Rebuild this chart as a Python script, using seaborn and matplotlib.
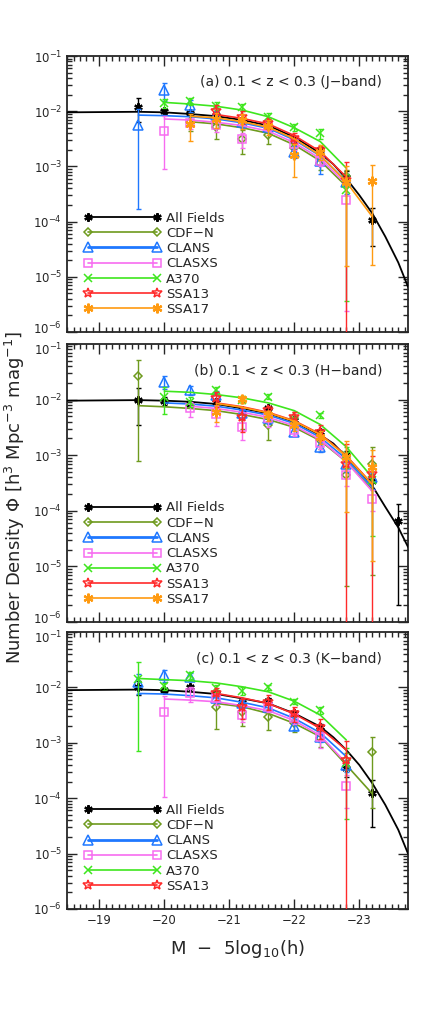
import numpy as np
import matplotlib
matplotlib.use("Agg")
import matplotlib.pyplot as plt
from matplotlib.lines import Line2D
from matplotlib.ticker import MultipleLocator, LogLocator, NullFormatter
from matplotlib.transforms import ScaledTranslation
import seaborn as sns

# magnitude bins (M - 5log10 h)
MAG_BINS = [-19.6, -20.0, -20.4, -20.8, -21.2, -21.6, -22.0, -22.4, -22.8, -23.2, -23.6]
# positions where the all-fields Schechter curve was read
CURVE_X = [-18.5, -19.6, -20.0, -20.4, -20.8, -21.2, -21.6, -22.0, -22.4, -22.6,
           -22.8, -23.0, -23.2, -23.4, -23.6, -23.75]

N = None
# ---- J band (log10 phi), relative errors, fit lines ----
J_ALL = [-1.93, -2.00, -2.03, -2.07, -2.15, -2.28, -2.52, -2.70, -3.20, -3.97, N]
J_ALL_ERR = [0.45, 0.1, 0.08, 0.08, 0.08, 0.08, 0.1, 0.12, 0.3, 0.66, N]
J_ALL_CURVE = [-2.02, -2.01, -2.02, -2.05, -2.09, -2.16, -2.26, -2.47, -2.76, -2.96,
               -3.22, -3.52, -3.85, -4.27, -4.74, -5.18]
J_CDFN = [N, N, -2.20, -2.28, -2.51, -2.43, -2.67, -2.94, -3.17, N, N]
J_CDFN_ERR = [N, N, 0.3, 0.4, 0.45, 0.3, 0.25, 0.25, 0.3, N, N]
J_CDFN_FIT = [N, N, -2.19, -2.23, -2.30, -2.40, -2.61, -2.90, -3.36, N, N]
J_CLANS = [-2.25, -1.62, -1.89, -2.07, -2.20, -2.28, -2.73, -2.91, -3.28, N, N]
J_CLANS_ERR = [0.97, 0.35, 0.25, 0.2, 0.2, 0.2, 0.25, 0.4, 0.4, N, N]
J_CLANS_FIT = [-2.07, -2.08, -2.10, -2.14, -2.21, -2.31, -2.52, -2.81, -3.27, N, N]
J_CLASXS = [N, -2.35, -2.22, -2.25, -2.51, -2.27, -2.60, -2.90, -3.61, N, N]
J_CLASXS_ERR = [N, 0.8, 0.2, 0.25, 0.3, 0.2, 0.2, 0.2, 0.99, N, N]
J_CLASXS_FIT = [N, -2.14, -2.16, -2.20, -2.26, -2.36, -2.57, -2.86, -3.32, N, N]
J_A370 = [N, -1.85, -1.82, -1.90, -1.93, -2.10, -2.29, -2.40, -3.43, N, N]
J_A370_ERR = [N, 0.2, 0.15, 0.15, 0.15, 0.15, 0.15, 0.2, 0.99, N, N]
J_A370_FIT = [N, -1.84, -1.87, -1.91, -1.98, -2.10, -2.30, -2.55, -3.03, N, N]
J_SSA13 = [N, N, N, -2.00, -2.10, -2.22, -2.48, -2.70, -3.25, N, N]
J_SSA13_ERR = [N, N, N, 0.3, 0.25, 0.2, 0.2, 0.2, 1.1, N, N]
J_SSA13_FIT = [N, N, N, -2.06, -2.13, -2.23, -2.44, -2.73, -3.19, N, N]
J_SSA17 = [N, N, -2.23, -2.14, -2.16, -2.27, -2.79, -2.73, -3.28, -3.26, N]
J_SSA17_ERR = [N, N, 0.5, 0.3, 0.3, 0.3, 0.6, 0.3, 0.97, 0.97, N]
J_SSA17_FIT = [N, N, -2.09, -2.12, -2.19, -2.29, -2.50, -2.80, -3.28, -3.91, N]

# ---- H band ----
H_ALL = [-2.01, -2.02, -2.08, -2.04, -2.19, -2.16, -2.37, -2.58, -3.00, -3.46, -4.18]
H_ALL_ERR = [0.65, 0.15, 0.1, 0.1, 0.1, 0.1, 0.1, 0.12, 0.2, 0.3, 0.97]
H_ALL_CURVE = [-2.02, -2.01, -2.02, -2.04, -2.08, -2.16, -2.25, -2.40, -2.64, -2.79,
               -3.03, -3.28, -3.55, -3.93, -4.30, -4.65]
H_CDFN = [-1.58, N, N, N, -2.31, -2.46, -2.34, -2.73, -3.36, -3.16, N]
H_CDFN_ERR = [0.97, N, N, N, 0.4, 0.45, 0.3, 0.3, 0.99, 0.99, N]
H_CDFN_FIT = [-2.11, -2.13, -2.16, -2.20, -2.27, -2.36, -2.50, -2.74, -3.12, -3.62, N]
H_CLANS = [N, -1.68, -1.83, -1.92, -2.25, -2.34, -2.58, -2.85, -3.15, -3.39, N]
H_CLANS_ERR = [N, 0.25, 0.2, 0.2, 0.2, 0.2, 0.15, 0.2, 0.3, 0.4, N]
H_CLANS_FIT = [N, -2.06, -2.08, -2.12, -2.19, -2.28, -2.43, -2.68, -3.07, -3.58, N]
H_CLASXS = [N, N, -2.16, -2.26, -2.50, -2.34, -2.55, -2.79, -3.36, -3.78, N]
H_CLASXS_ERR = [N, N, 0.3, 0.4, 0.4, 0.3, 0.2, 0.2, 0.35, 0.4, N]
H_CLASXS_FIT = [N, N, -2.12, -2.16, -2.23, -2.32, -2.47, -2.72, -3.12, -3.65, N]
H_A370 = [N, -1.95, -2.04, -1.83, -2.00, -1.95, -2.37, -2.28, -3.00, -3.45, N]
H_A370_ERR = [N, 0.5, 0.2, 0.15, 0.15, 0.1, 0.15, 0.1, 0.4, 0.9, N]
H_A370_FIT = [N, -1.85, -1.87, -1.91, -1.97, -2.06, -2.20, -2.45, -2.85, -3.40, N]
H_SSA13 = [N, N, N, -1.98, -2.32, -2.19, -2.31, -2.58, -3.15, -3.33, N]
H_SSA13_ERR = [N, N, N, 0.3, 0.45, 0.2, 0.2, 0.3, 1.2, 1.1, N]
H_SSA13_FIT = [N, N, N, -2.06, -2.13, -2.23, -2.38, -2.62, -3.01, -3.52, N]
H_SSA17 = [N, N, N, -2.22, -1.99, -2.28, -2.46, -2.67, -3.03, -3.21, N]
H_SSA17_ERR = [N, N, N, 0.35, 0.15, 0.2, 0.2, 0.25, 0.9, 0.98, N]
H_SSA17_FIT = [N, N, N, -2.07, -2.14, -2.24, -2.39, -2.63, -3.02, -3.53, N]

# ---- K band ----
K_ALL = [-1.99, -2.05, -1.99, -2.11, -2.26, -2.24, -2.47, -2.71, -3.46, -3.91, N]
K_ALL_ERR = [0.3, 0.1, 0.1, 0.1, 0.1, 0.1, 0.1, 0.12, 0.3, 0.75, N]
K_ALL_CURVE = [-2.05, -2.04, -2.05, -2.08, -2.12, -2.20, -2.29, -2.47, -2.71, -2.90,
               -3.13, -3.40, -3.73, -4.12, -4.57, -5.00]
K_CDFN = [N, N, N, -2.36, -2.44, -2.54, -2.65, -2.92, -3.31, -3.17, N]
K_CDFN_ERR = [N, N, N, 0.6, 0.45, 0.4, 0.3, 0.3, 0.35, 0.9, N]
K_CDFN_FIT = [N, N, N, -2.29, -2.35, -2.47, -2.65, -2.89, -3.40, -3.92, N]
K_CLANS = [-1.90, -1.78, -1.81, -2.20, -2.29, -2.35, -2.70, -2.89, -3.40, N, N]
K_CLANS_ERR = [0.4, 0.25, 0.15, 0.15, 0.15, 0.15, 0.15, 0.2, 0.25, N, N]
K_CLANS_FIT = [-2.11, -2.12, -2.15, -2.19, -2.27, -2.37, -2.56, -2.82, -3.25, N, N]
K_CLASXS = [N, -2.45, -2.11, -2.20, -2.50, -2.35, -2.56, -2.90, -3.78, N, N]
K_CLASXS_ERR = [N, 0.97, 0.3, 0.25, 0.25, 0.2, 0.2, 0.35, 0.6, N, N]
K_CLASXS_FIT = [N, -2.21, -2.23, -2.26, -2.33, -2.42, -2.60, -2.87, -3.37, N, N]
K_A370 = [-1.84, -1.98, -1.78, -2.02, -2.06, -2.00, -2.26, -2.41, -3.37, N, N]
K_A370_ERR = [0.95, 0.15, 0.15, 0.15, 0.15, 0.1, 0.1, 0.15, 0.9, N, N]
K_A370_FIT = [-1.84, -1.86, -1.88, -1.92, -1.99, -2.08, -2.25, -2.50, -2.95, N, N]
K_SSA13 = [N, N, N, -2.11, -2.35, -2.26, -2.47, -2.71, -3.31, N, N]
K_SSA13_ERR = [N, N, N, 0.25, 0.4, 0.3, 0.3, 0.4, 1.2, N, N]
K_SSA13_FIT = [N, N, N, -2.11, -2.19, -2.29, -2.48, -2.74, -3.13, N, N]

PANEL_TEXT = ["(a) 0.1 < z < 0.3 (J\u2212band)",
              "(b) 0.1 < z < 0.3 (H\u2212band)",
              "(c) 0.1 < z < 0.3 (K\u2212band)"]

STYLE = {
    "All Fields": dict(color="black", marker=(6, 2, 0), ms=6, mfc="black", lw=1.3),
    "CDF\u2212N": dict(color="#6e9a1e", marker="D", ms=4.5, mfc="none", lw=1.2),
    "CLANS": dict(color="#1f78ff", marker="^", ms=6.5, mfc="none", lw=1.2),
    "CLASXS": dict(color="#f76cf0", marker="s", ms=6, mfc="none", lw=1.2),
    "A370": dict(color="#3ee61e", marker="x", ms=5.5, mfc="none", lw=1.2),
    "SSA13": dict(color="#ff2a2a", marker="*", ms=7, mfc="none", lw=1.2),
    "SSA17": dict(color="#ff9a10", marker=(6, 2, 0), ms=7, mfc="#ff9a10", lw=1.2),
}

bands = [
    {"CDF\u2212N": (J_CDFN, J_CDFN_ERR, J_CDFN_FIT), "CLANS": (J_CLANS, J_CLANS_ERR, J_CLANS_FIT),
     "CLASXS": (J_CLASXS, J_CLASXS_ERR, J_CLASXS_FIT), "A370": (J_A370, J_A370_ERR, J_A370_FIT),
     "SSA13": (J_SSA13, J_SSA13_ERR, J_SSA13_FIT), "SSA17": (J_SSA17, J_SSA17_ERR, J_SSA17_FIT)},
    {"CDF\u2212N": (H_CDFN, H_CDFN_ERR, H_CDFN_FIT), "CLANS": (H_CLANS, H_CLANS_ERR, H_CLANS_FIT),
     "CLASXS": (H_CLASXS, H_CLASXS_ERR, H_CLASXS_FIT), "A370": (H_A370, H_A370_ERR, H_A370_FIT),
     "SSA13": (H_SSA13, H_SSA13_ERR, H_SSA13_FIT), "SSA17": (H_SSA17, H_SSA17_ERR, H_SSA17_FIT)},
    {"CDF\u2212N": (K_CDFN, K_CDFN_ERR, K_CDFN_FIT), "CLANS": (K_CLANS, K_CLANS_ERR, K_CLANS_FIT),
     "CLASXS": (K_CLASXS, K_CLASXS_ERR, K_CLASXS_FIT), "A370": (K_A370, K_A370_ERR, K_A370_FIT),
     "SSA13": (K_SSA13, K_SSA13_ERR, K_SSA13_FIT)},
]
all_fields = [(J_ALL, J_ALL_ERR, J_ALL_CURVE), (H_ALL, H_ALL_ERR, H_ALL_CURVE),
              (K_ALL, K_ALL_ERR, K_ALL_CURVE)]

sns.set_style("ticks")
plt.rcParams["font.family"] = ["DejaVu Sans"]
plt.rcParams["xtick.direction"] = "in"
plt.rcParams["ytick.direction"] = "in"


def pick(vals, errs=None):
    xs, ys, es = [], [], []
    for i, v in enumerate(vals):
        if v is None:
            continue
        xs.append(MAG_BINS[i])
        ys.append(10.0 ** v)
        if errs is not None:
            es.append(errs[i])
    return np.array(xs), np.array(ys), np.array(es)


def draw_points(ax, vals, errs, st, z):
    x, phi, rel = pick(vals, errs)
    lower = phi - np.maximum(phi * (1 - rel), 1e-8)
    upper = phi * rel
    ax.errorbar(x, phi, yerr=[lower, upper], fmt="none", ecolor=st["color"],
                elinewidth=1.0, capsize=1.8, capthick=1.0, zorder=z)
    mew = 1.6 if st["marker"] == (6, 2, 0) else 1.1
    ax.plot(x, phi, ls="none", marker=st["marker"], ms=st["ms"], mfc=st["mfc"],
            mec=st["color"], mew=mew, zorder=z + 0.5)


fig = plt.figure(figsize=(4.36, 10.17), dpi=100)
boxes = [[0.1537, 0.6735, 0.7821, 0.2714],
         [0.1537, 0.3884, 0.7821, 0.2734],
         [0.1537, 0.1062, 0.7821, 0.2724]]
axes = []

for k, box in enumerate(boxes):
    ax = fig.add_axes(box)
    axes.append(ax)
    ax.set_yscale("log")
    all_vals, all_err, all_curve = all_fields[k]
    # all-fields Schechter curve
    sns.lineplot(x=CURVE_X, y=[10.0 ** v for v in all_curve], ax=ax, color="black",
                 lw=1.3, estimator=None, sort=False, zorder=3)
    z = 4
    for name, (vals, errs, fit) in bands[k].items():
        st = STYLE[name]
        fx, fy, _ = pick(fit)
        sns.lineplot(x=fx, y=fy, ax=ax, color=st["color"], lw=st["lw"],
                     estimator=None, sort=False, zorder=z)
        draw_points(ax, vals, errs, st, z)
        z += 1
    draw_points(ax, all_vals, all_err, STYLE["All Fields"], 3)

    ax.set_xlim(-18.5, -23.75)
    ax.set_ylim(1e-6, 1e-1)
    ax.xaxis.set_major_locator(MultipleLocator(1))
    ax.xaxis.set_minor_locator(MultipleLocator(0.1))
    ax.yaxis.set_major_locator(LogLocator(base=10, numticks=10))
    ax.yaxis.set_minor_locator(LogLocator(base=10, subs=np.arange(2, 10), numticks=10))
    ax.yaxis.set_minor_formatter(NullFormatter())
    ax.tick_params(which="both", top=True, right=True, labelsize=8.5, width=1.0)
    ax.tick_params(which="major", length=7)
    ax.tick_params(which="minor", length=3.5)
    for sp in ax.spines.values():
        sp.set_linewidth(1.3)
    if k < 2:
        ax.tick_params(labelbottom=False)
    ax.set_xlabel("")
    ax.set_ylabel("")
    ax.text(0.924, 0.905, PANEL_TEXT[k], transform=ax.transAxes, ha="right",
            va="center", fontsize=10)

    names = ["All Fields"] + list(bands[k].keys())
    handles = []
    for name in names:
        st = STYLE[name]
        lw = 2.0 if name == "CLANS" else st["lw"]
        mew = 1.6 if st["marker"] == (6, 2, 0) else 1.1
        handles.append(Line2D([0], [0], color=st["color"], lw=lw, marker=st["marker"],
                              ms=st["ms"], mfc=st["mfc"], mec=st["color"], mew=mew))
    ax.legend(handles, names, loc="lower left", bbox_to_anchor=(0.05, 0.058),
              numpoints=2, handlelength=5.8, handletextpad=0.4, labelspacing=0.17,
              frameon=False, fontsize=9.5, borderpad=0, borderaxespad=0)

ax.set_xlabel("M  \u2212  5log$_{10}$(h)", fontsize=13, labelpad=8)
fig.text(0.035, 0.511, "Number Density \u03a6 [h$^3$ Mpc$^{-3}$ mag$^{-1}$]",
         rotation=90, ha="center", va="center", fontsize=13)

# nudge the touching end labels of neighbouring panels apart a little
fig.canvas.draw()
for k, ax in enumerate(axes):
    for tick in ax.yaxis.get_major_ticks():
        loc = tick.get_loc()
        if k < 2 and np.isclose(loc, 1e-6):
            tick.label1.set_transform(tick.label1.get_transform()
                                      + ScaledTranslation(0, 3 / 72, fig.dpi_scale_trans))
        if k > 0 and np.isclose(loc, 1e-1):
            tick.label1.set_transform(tick.label1.get_transform()
                                      + ScaledTranslation(0, -3 / 72, fig.dpi_scale_trans))

fig.savefig("out.png", dpi=100)
